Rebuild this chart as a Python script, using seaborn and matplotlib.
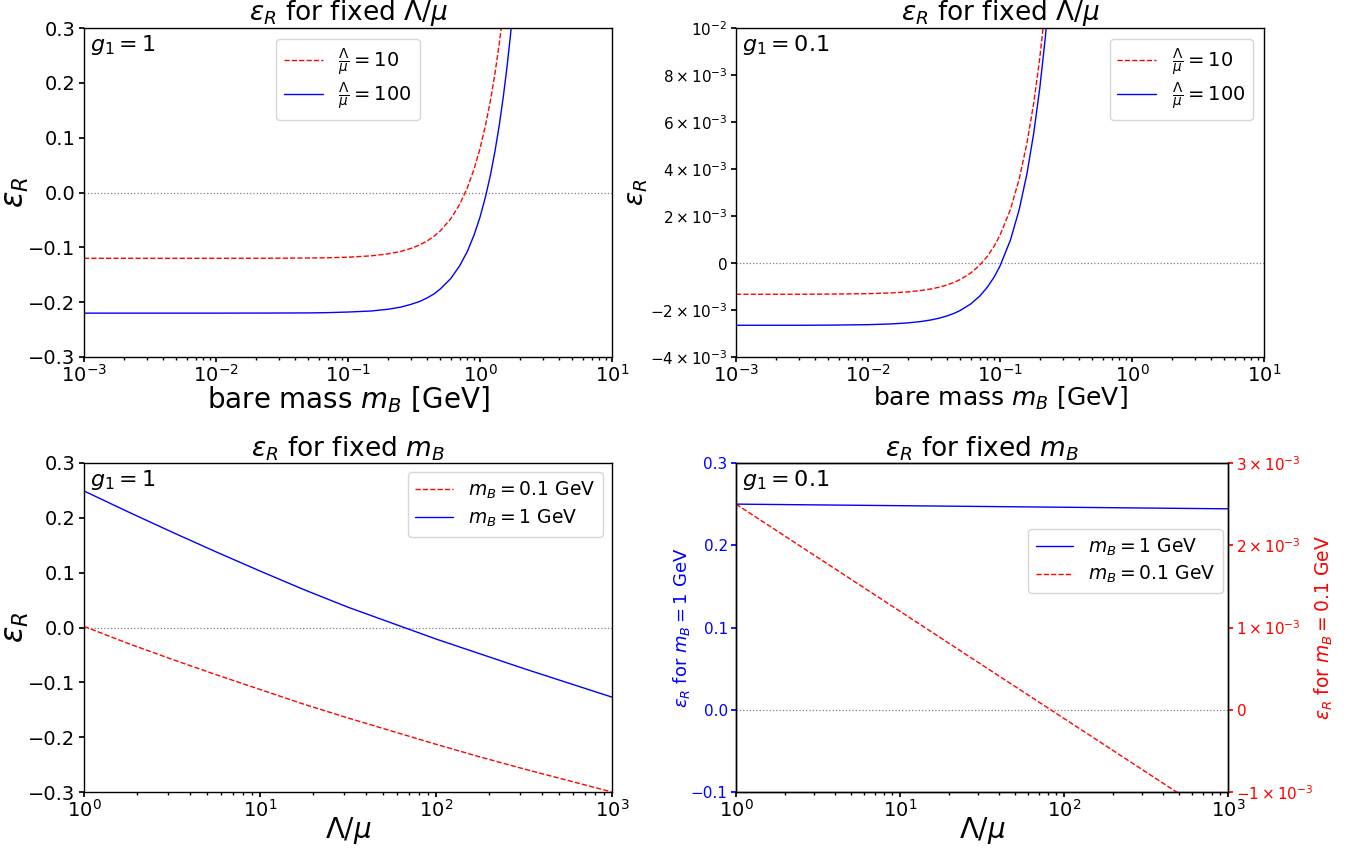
import matplotlib
matplotlib.use("Agg")
import matplotlib.pyplot as plt
import seaborn as sns
import pandas as pd
from matplotlib.ticker import FixedLocator, FixedFormatter, LogLocator, NullFormatter

# ---------------- data ----------------
# top-left: g1 = 1, eps_R vs bare mass, fixed Lambda/mu
mB_tl_10 = [0.001, 0.01, 0.03, 0.05, 0.07, 0.1, 0.15, 0.2, 0.25, 0.3, 0.35, 0.4,
            0.45, 0.5, 0.6, 0.7, 0.8, 0.9, 1.0, 1.1, 1.2, 1.3, 1.4, 1.5]
eps_tl_10 = [-0.120, -0.120, -0.1198, -0.1195, -0.119, -0.118, -0.1155, -0.112,
             -0.1075, -0.102, -0.0955, -0.088, -0.0795, -0.070, -0.048, -0.022,
             0.008, 0.042, 0.080, 0.122, 0.168, 0.218, 0.272, 0.330]
mB_tl_100 = [0.001, 0.01, 0.03, 0.05, 0.07, 0.1, 0.15, 0.2, 0.25, 0.3, 0.35, 0.4,
             0.45, 0.5, 0.6, 0.7, 0.8, 0.9, 1.0, 1.1, 1.2, 1.3, 1.4, 1.5, 1.6,
             1.7, 1.8]
eps_tl_100 = [-0.220, -0.220, -0.2198, -0.2196, -0.2191, -0.218, -0.2161, -0.213,
              -0.2091, -0.204, -0.1986, -0.192, -0.1846, -0.176, -0.157, -0.134,
              -0.108, -0.078, -0.045, -0.008, 0.032, 0.076, 0.123, 0.174, 0.228,
              0.286, 0.347]

# top-right: g1 = 0.1
mB_tr_10 = [0.001, 0.003, 0.005, 0.01, 0.015, 0.02, 0.025, 0.03, 0.035, 0.04,
            0.045, 0.05, 0.06, 0.07, 0.08, 0.09, 0.10, 0.12, 0.14, 0.16, 0.18,
            0.20, 0.22]
eps_tr_10 = [-1.33e-3, -1.33e-3, -1.324e-3, -1.305e-3, -1.274e-3, -1.23e-3,
             -1.173e-3, -1.104e-3, -1.023e-3, -0.928e-3, -0.822e-3, -0.703e-3,
             -0.426e-3, -0.100e-3, 0.276e-3, 0.703e-3, 1.18e-3, 2.28e-3, 3.59e-3,
             5.10e-3, 6.80e-3, 8.71e-3, 10.82e-3]
mB_tr_100 = [0.001, 0.003, 0.005, 0.01, 0.015, 0.02, 0.025, 0.03, 0.035, 0.04,
             0.045, 0.05, 0.06, 0.07, 0.08, 0.09, 0.10, 0.12, 0.14, 0.16, 0.18,
             0.20, 0.22, 0.24]
eps_tr_100 = [-2.65e-3, -2.65e-3, -2.644e-3, -2.625e-3, -2.593e-3, -2.549e-3,
              -2.4925e-3, -2.423e-3, -2.341e-3, -2.247e-3, -2.140e-3, -2.020e-3,
              -1.743e-3, -1.415e-3, -1.037e-3, -0.609e-3, -0.130e-3, 0.979e-3,
              2.289e-3, 3.801e-3, 5.515e-3, 7.430e-3, 9.547e-3, 11.865e-3]

# bottom-left: g1 = 1, eps_R vs Lambda/mu, fixed m_B
lmu_bl = [1, 1.778, 3.162, 5.623, 10, 17.78, 31.62, 56.23, 100, 177.8, 316.2,
          562.3, 1000]
eps_bl_01 = [0.002, -0.029, -0.058, -0.086, -0.113, -0.140, -0.165, -0.189,
             -0.213, -0.236, -0.258, -0.279, -0.300]
eps_bl_1 = [0.249, 0.211, 0.174, 0.138, 0.103, 0.069, 0.037, 0.008, -0.021,
            -0.048, -0.075, -0.101, -0.127]

# bottom-right: g1 = 0.1
lmu_br = [1, 10, 100, 1000]
eps_br_1 = [0.2500, 0.2481, 0.2462, 0.2443]
eps_br_01 = [2.5e-3, 1.197e-3, -0.106e-3, -1.409e-3]

# tick labels
tr_yticks = [-4e-3, -2e-3, 0, 2e-3, 4e-3, 6e-3, 8e-3, 1e-2]
tr_ylabels = [r"$\mathdefault{-4\times10^{-3}}$", r"$\mathdefault{-2\times10^{-3}}$",
              r"$\mathdefault{0}$", r"$\mathdefault{2\times10^{-3}}$",
              r"$\mathdefault{4\times10^{-3}}$", r"$\mathdefault{6\times10^{-3}}$",
              r"$\mathdefault{8\times10^{-3}}$", r"$\mathdefault{10^{-2}}$"]
br_rticks = [-1e-3, 0, 1e-3, 2e-3, 3e-3]
br_rlabels = [r"$\mathdefault{-1\times10^{-3}}$", r"$\mathdefault{0}$",
              r"$\mathdefault{1\times10^{-3}}$", r"$\mathdefault{2\times10^{-3}}$",
              r"$\mathdefault{3\times10^{-3}}$"]
br_lticks = [-0.1, 0.0, 0.1, 0.2, 0.3]

# ---------------- style ----------------
sns.set_theme(style="white")
plt.rcParams.update({
    "font.family": ["DejaVu Sans"],
    "axes.edgecolor": "black",
    "axes.linewidth": 1.0,
    "xtick.bottom": True,
    "ytick.left": True,
    "xtick.direction": "out",
    "ytick.direction": "out",
    "xtick.major.size": 3.5,
    "ytick.major.size": 3.5,
    "xtick.minor.size": 2.0,
    "xtick.major.pad": 1.5,
    "ytick.major.pad": 2.5,
    "xtick.color": "black",
    "ytick.color": "black",
    "text.color": "black",
    "axes.labelcolor": "black",
    "mathtext.fontset": "dejavusans",
})

W, H = 1364, 851
fig = plt.figure(figsize=(W / 100, H / 100), dpi=100)


def rect(l, r, t, b):
    return [l / W, 1 - b / H, (r - l) / W, (b - t) / H]


ax_tl = fig.add_axes(rect(84, 612, 28, 357))
ax_tr = fig.add_axes(rect(736, 1264, 28, 357))
ax_bl = fig.add_axes(rect(84, 612, 463, 792))
ax_br = fig.add_axes(rect(736, 1228, 463, 792))

lw = 1.0
lab10 = r"$\frac{\Lambda}{\mu} = 10$"
lab100 = r"$\frac{\Lambda}{\mu} = 100$"


def zero_line(ax):
    ax.axhline(0, color="gray", ls=":", lw=0.9, zorder=1)


def log_minor(ax):
    ax.xaxis.set_minor_locator(LogLocator(base=10, subs=range(2, 10), numticks=20))
    ax.xaxis.set_minor_formatter(NullFormatter())


# ---- top-left ----
ax = ax_tl
sns.lineplot(x=mB_tl_10, y=eps_tl_10, ax=ax, color="red", ls="--", lw=lw, label=lab10)
sns.lineplot(x=mB_tl_100, y=eps_tl_100, ax=ax, color="blue", ls="-", lw=lw, label=lab100)
zero_line(ax)
ax.set_xscale("log")
ax.set_xlim(1e-3, 10)
ax.set_ylim(-0.3, 0.3)
log_minor(ax)
ax.tick_params(axis="both", labelsize=14)
ax.set_title(r"$\epsilon_R$ for fixed $\Lambda/\mu$", fontsize=19, pad=3)
ax.set_xlabel(r"bare mass $m_B$ [GeV]", fontsize=20, labelpad=-1)
ax.set_ylabel(r"$\epsilon_R$", fontsize=22)
ax.yaxis.set_label_coords(-0.100, 0.5)
ax.text(0.012, 0.985, r"$g_1 = 1$", transform=ax.transAxes, ha="left", va="top", fontsize=16)
ax.legend(loc="upper center", fontsize=14, borderaxespad=0.55, labelspacing=0.15)

# ---- top-right ----
ax = ax_tr
sns.lineplot(x=mB_tr_10, y=eps_tr_10, ax=ax, color="red", ls="--", lw=lw, label=lab10)
sns.lineplot(x=mB_tr_100, y=eps_tr_100, ax=ax, color="blue", ls="-", lw=lw, label=lab100)
zero_line(ax)
ax.set_xscale("log")
ax.set_xlim(1e-3, 10)
ax.set_ylim(-4e-3, 1e-2)
log_minor(ax)
ax.yaxis.set_major_locator(FixedLocator(tr_yticks))
ax.yaxis.set_major_formatter(FixedFormatter(tr_ylabels))
ax.tick_params(axis="x", labelsize=14)
ax.tick_params(axis="y", labelsize=11)
ax.set_title(r"$\epsilon_R$ for fixed $\Lambda/\mu$", fontsize=19, pad=3)
ax.set_xlabel(r"bare mass $m_B$ [GeV]", fontsize=18, labelpad=-1)
ax.set_ylabel(r"$\epsilon_R$", fontsize=19)
ax.yaxis.set_label_coords(-0.163, 0.5)
ax.text(0.012, 0.985, r"$g_1 = 0.1$", transform=ax.transAxes, ha="left", va="top", fontsize=16)
ax.legend(loc="upper right", fontsize=14, borderaxespad=0.55, labelspacing=0.15)

# ---- bottom-left ----
ax = ax_bl
sns.lineplot(x=lmu_bl, y=eps_bl_01, ax=ax, color="red", ls="--", lw=lw, label=r"$m_B = 0.1$ GeV")
sns.lineplot(x=lmu_bl, y=eps_bl_1, ax=ax, color="blue", ls="-", lw=lw, label=r"$m_B = 1$ GeV")
zero_line(ax)
ax.set_xscale("log")
ax.set_xlim(1, 1000)
ax.set_ylim(-0.3, 0.3)
log_minor(ax)
ax.tick_params(axis="both", labelsize=14)
ax.set_title(r"$\epsilon_R$ for fixed $m_B$", fontsize=19, pad=3)
ax.set_xlabel(r"$\Lambda/\mu$", fontsize=20, labelpad=-4)
ax.set_ylabel(r"$\epsilon_R$", fontsize=22)
ax.yaxis.set_label_coords(-0.100, 0.5)
ax.text(0.012, 0.985, r"$g_1 = 1$", transform=ax.transAxes, ha="left", va="top", fontsize=16)
ax.legend(loc="upper right", fontsize=13.5, labelspacing=0.35)

# ---- bottom-right (twin axes) ----
ax = ax_br
axr = ax.twinx()
sns.lineplot(x=lmu_br, y=eps_br_1, ax=ax, color="blue", ls="-", lw=lw, label=r"$m_B = 1$ GeV")
sns.lineplot(x=lmu_br, y=eps_br_01, ax=axr, color="red", ls="--", lw=lw, label=r"$m_B = 0.1$ GeV")
zero_line(ax)
ax.set_xscale("log")
ax.set_xlim(1, 1000)
ax.set_ylim(-0.1, 0.3)
log_minor(ax)
ax.yaxis.set_major_locator(FixedLocator(br_lticks))
ax.tick_params(axis="x", labelsize=14)
ax.tick_params(axis="y", labelsize=11, colors="blue")
ax.set_title(r"$\epsilon_R$ for fixed $m_B$", fontsize=19, pad=3)
ax.set_xlabel(r"$\Lambda/\mu$", fontsize=20, labelpad=-4)
ax.set_ylabel(r"$\epsilon_R$ for $m_B = 1$ GeV", fontsize=13, color="blue")
ax.yaxis.set_label_coords(-0.089, 0.5)
ax.text(0.012, 0.985, r"$g_1 = 0.1$", transform=ax.transAxes, ha="left", va="top", fontsize=16)
axr.set_ylim(-1e-3, 3e-3)
axr.yaxis.set_major_locator(FixedLocator(br_rticks))
axr.yaxis.set_major_formatter(FixedFormatter(br_rlabels))
axr.tick_params(axis="y", labelsize=11, colors="red", right=True)
axr.set_ylabel(r"$\epsilon_R$ for $m_B = 0.1$ GeV", fontsize=13.5, color="red")
axr.yaxis.set_label_coords(1.173, 0.5)
if ax.get_legend() is not None:
    ax.get_legend().remove()
h1, l1 = ax.get_legend_handles_labels()
h2, l2 = axr.get_legend_handles_labels()
axr.legend(h1 + h2, l1 + l2, loc="upper right", bbox_to_anchor=(0.99, 0.80),
           borderaxespad=0, fontsize=13.5, labelspacing=0.35)

fig.savefig("out.png", dpi=100)
